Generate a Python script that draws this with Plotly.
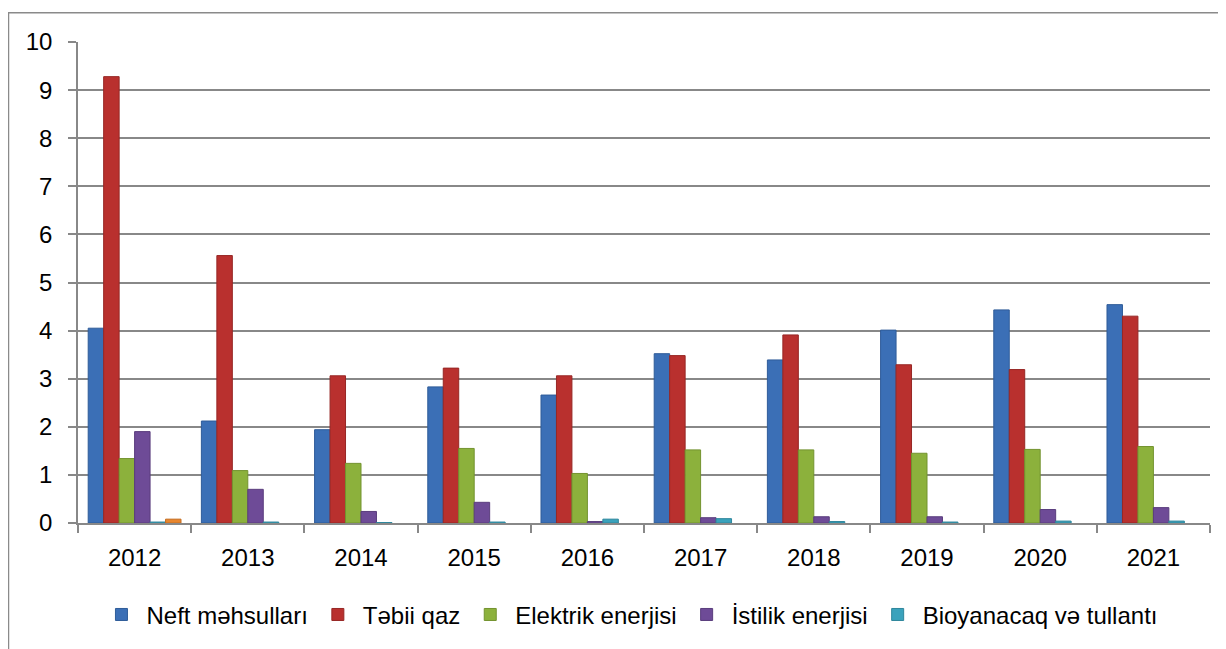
import plotly.graph_objects as go

years = ["2012", "2013", "2014", "2015", "2016", "2017", "2018", "2019", "2020", "2021"]
neft = [4.05, 2.12, 1.94, 2.83, 2.66, 3.52, 3.39, 4.01, 4.43, 4.54]
tabii = [9.28, 5.56, 3.06, 3.22, 3.06, 3.48, 3.91, 3.29, 3.19, 4.30]
elektrik = [1.34, 1.09, 1.24, 1.55, 1.03, 1.52, 1.52, 1.45, 1.53, 1.59]
istilik = [1.90, 0.70, 0.24, 0.43, 0.03, 0.11, 0.13, 0.13, 0.28, 0.32]
bio = [0.02, 0.02, 0.01, 0.02, 0.08, 0.09, 0.03, 0.02, 0.04, 0.04]
other = [0.08, None, None, None, None, None, None, None, None, None]

series = [
    ("Neft məhsulları", neft, "#3b6fb6", "#2f5c99", True),
    ("Təbii qaz", tabii, "#b9302e", "#972725", True),
    ("Elektrik enerjisi", elektrik, "#8cb13c", "#73932f", True),
    ("İstilik enerjisi", istilik, "#6e4b97", "#5a3d7d", True),
    ("Bioyanacaq və tullantı", bio, "#3aa2bc", "#2f869c", True),
    ("Digər", other, "#e8862e", "#c46e22", False),
]

fig = go.Figure()
for name, vals, col, edge, show in series:
    fig.add_trace(go.Bar(
        x=years, y=vals, name=name, showlegend=show,
        marker=dict(color=col, line=dict(color=edge, width=1)),
    ))

font = "Liberation Sans, Arial, sans-serif"
fig.update_layout(
    width=1218, height=641,
    margin=dict(l=70, r=16, t=34, b=123),
    paper_bgcolor="white", plot_bgcolor="white",
    barmode="group", bargap=0.18, bargroupgap=0,
    font=dict(family=font, size=24, color="#000000"),
    legend=dict(orientation="h", x=0.4876, xanchor="center", y=-0.191, yanchor="middle",
                font=dict(size=24), itemwidth=40, traceorder="normal"),
    xaxis=dict(type="category", tickson="boundaries", ticks="outside", ticklen=8,
               tickcolor="#888888", tickwidth=1.5, showline=True, linecolor="#888888",
               linewidth=1.5, showgrid=False, tickfont=dict(size=24),
               ticklabelstandoff=12),
    yaxis=dict(range=[0, 10], dtick=1, ticks="outside", ticklen=8, tickcolor="#888888",
               tickwidth=1.5, showline=True, linecolor="#888888", linewidth=1.5,
               showgrid=True, gridcolor="#888888", gridwidth=1.5, zeroline=False,
               tickfont=dict(size=24), ticklabelstandoff=11),
    shapes=[dict(type="rect", xref="paper", yref="paper",
                 x0=-0.0614, x1=1.2, y0=-0.5, y1=1.061,
                 line=dict(color="#8a8a8a", width=1.5), fillcolor="rgba(0,0,0,0)",
                 layer="below")],
)

fig.write_html("out.html")
